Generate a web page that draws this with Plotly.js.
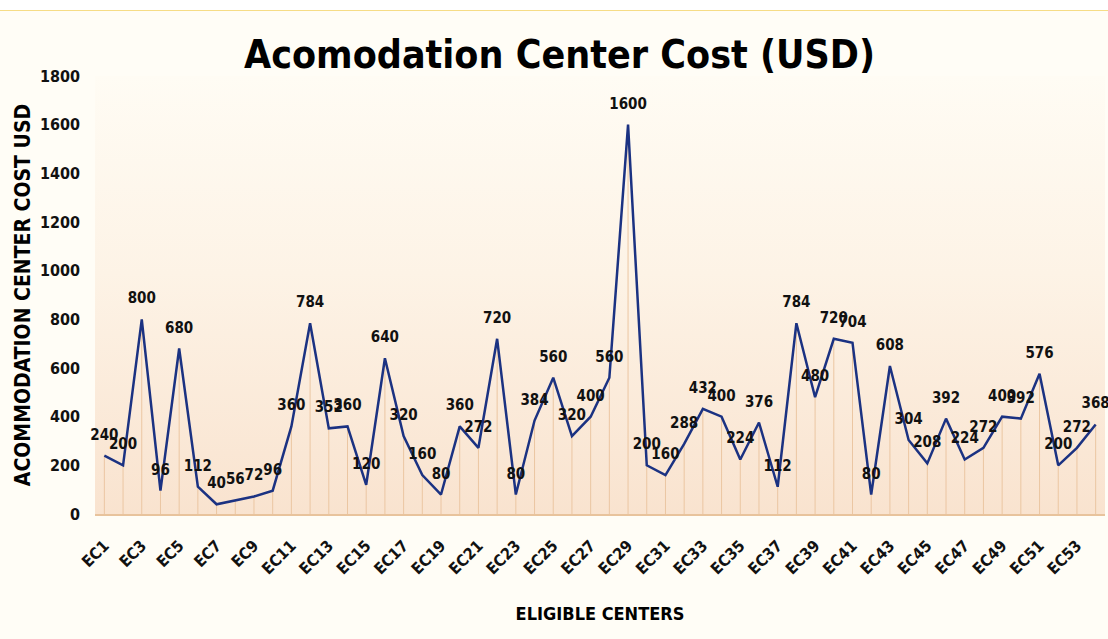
<!DOCTYPE html>
<html><head><meta charset="utf-8">
<script src="https://cdn.plot.ly/plotly-3.0.1.min.js"></script>
<style>
html,body{margin:0;padding:0;background:#ffffff;}
#wrap{position:relative;width:1108px;height:639px;overflow:hidden;}
#topband{position:absolute;left:0;top:0;width:1108px;height:10px;background:#ffffff;border-bottom:1px solid #f6dc86;}
#bg{position:absolute;left:0;top:11px;width:1108px;height:628px;background:#fffdf6;}
#plotbg{position:absolute;left:95px;top:76px;width:1010px;height:438px;background:linear-gradient(to bottom,#fffcf4 0%,#fdf3e6 45%,#f9e3cf 100%);}
#chart{position:absolute;left:0;top:0;width:1108px;height:639px;}
</style></head>
<body><div id="wrap"><div id="topband"></div><div id="bg"></div><div id="plotbg"></div><div id="chart"></div></div>
<script>
const categories = ["EC1","EC2","EC3","EC4","EC5","EC6","EC7","EC8","EC9","EC10","EC11","EC12","EC13","EC14","EC15","EC16","EC17","EC18","EC19","EC20","EC21","EC22","EC23","EC24","EC25","EC26","EC27","EC28","EC29","EC30","EC31","EC32","EC33","EC34","EC35","EC36","EC37","EC38","EC39","EC40","EC41","EC42","EC43","EC44","EC45","EC46","EC47","EC48","EC49","EC50","EC51","EC52","EC53","EC54"];
const costs = [240,200,800,96,680,112,40,56,72,96,360,784,352,360,120,640,320,160,80,360,272,720,80,384,560,320,400,560,1600,200,160,288,432,400,224,376,112,784,480,720,704,80,608,304,208,392,224,272,400,392,576,200,272,368];
const tickLabels = categories.filter((c,i)=>i%2===0);
const yTicks = [0,200,400,600,800,1000,1200,1400,1600,1800];

const font = "'DejaVu Sans Condensed','DejaVu Sans',sans-serif";
const trace = {
  type:'scatter', mode:'lines+markers+text',
  x:categories, y:costs,
  text:costs.map(String), textposition:'top center',
  textfont:{family:font, size:15, color:'#111111', weight:'bold'},
  marker:{size:18, color:'rgba(0,0,0,0)', line:{width:0}},
  line:{color:'#1b3282', width:2.5},
  error_y:{type:'data', symmetric:false, array:costs.map(()=>0), arrayminus:costs, color:'#ebc6a2', thickness:1, width:0},
  cliponaxis:false, hoverinfo:'x+y'
};
const layout = {
  width:1108, height:639,
  paper_bgcolor:'rgba(0,0,0,0)', plot_bgcolor:'rgba(0,0,0,0)',
  margin:{l:95, r:3, t:76, b:125},
  showlegend:false,
  title:{text:'Acomodation Center Cost (USD)', x:0.505, xanchor:'center', y:0.915, yanchor:'middle',
    font:{family:font, size:39, color:'#000000', weight:'bold'}},
  xaxis:{type:'category', categoryorder:'array', categoryarray:categories, range:[-0.5,53.5],
    tickmode:'array', tickvals:tickLabels, ticktext:tickLabels, tickangle:-45,
    tickfont:{family:font, size:16, color:'#111111', weight:'bold'},
    ticks:'', ticklabelstandoff:14,
    showline:true, linecolor:'#e8c39c', linewidth:2, showgrid:false, zeroline:false,
    title:{text:'ELIGIBLE CENTERS', standoff:30, font:{family:font, size:18, color:'#000000', weight:'bold'}}},
  yaxis:{range:[0,1800], tickmode:'array', tickvals:yTicks, ticktext:yTicks.map(String),
    tickfont:{family:font, size:16, color:'#111111', weight:'bold'},
    showgrid:false, zeroline:false, showline:false, ticks:'', ticklabelstandoff:14,
    title:{text:'ACOMMODATION CENTER COST USD', standoff:3, font:{family:font, size:21, color:'#000000', weight:'bold'}}}
};
Plotly.newPlot('chart',[trace],layout,{displayModeBar:false, staticPlot:true});
</script></body></html>
